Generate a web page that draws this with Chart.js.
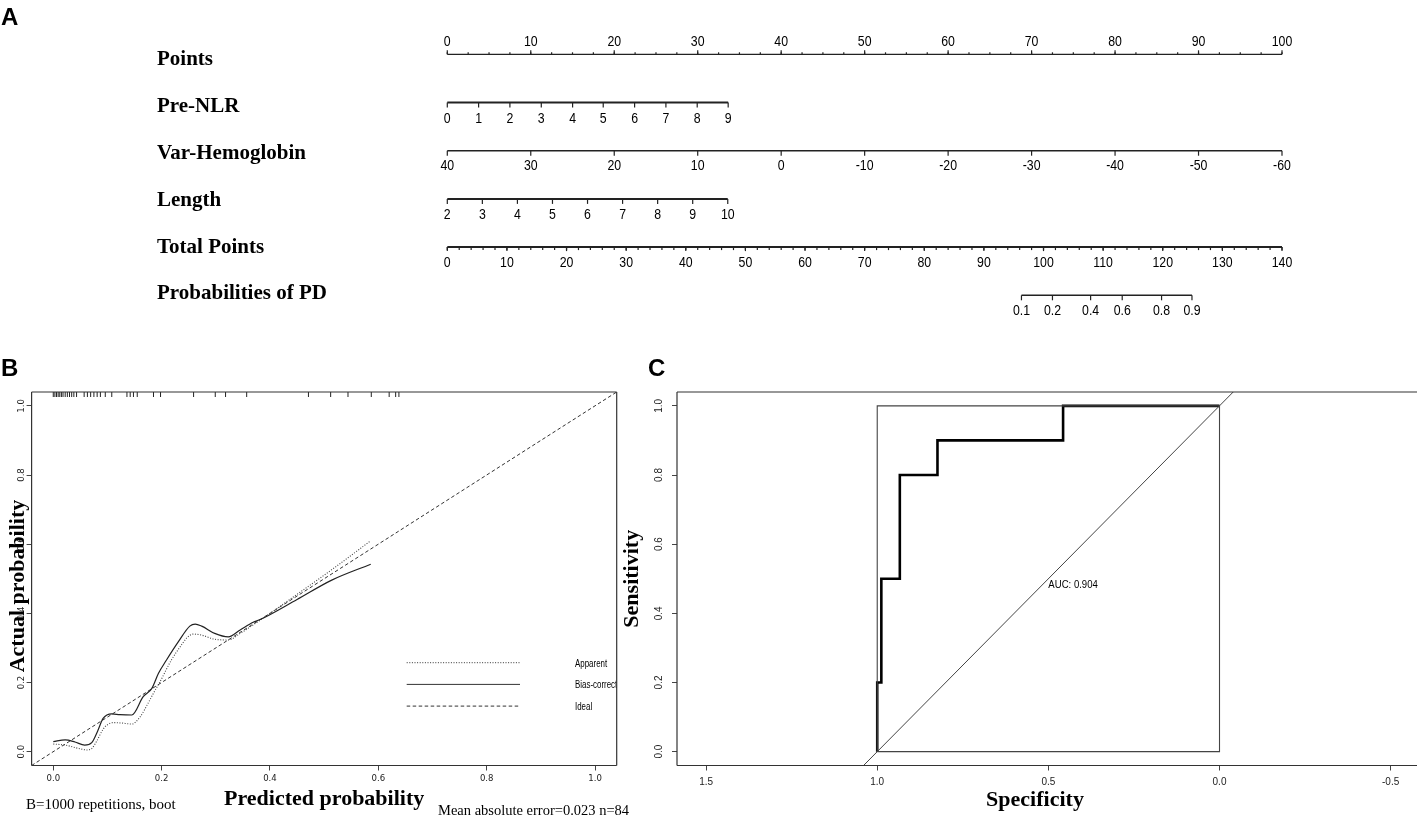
<!DOCTYPE html>
<html lang="en">
<head>
<meta charset="UTF-8">
<title>Nomogram, calibration curve and ROC curve</title>
<style>
  body { margin: 0; background: #fff; }
  #fig { position: relative; width: 1417px; height: 818px; overflow: hidden; background: #fff; }
  #fig canvas { position: absolute; }
  .tag { position: absolute; font: bold 24px "Liberation Sans", Arial, sans-serif; line-height: 24px; color: #000; }
</style>
<script src="https://cdn.jsdelivr.net/npm/chart.js@4.4.1/dist/chart.umd.min.js"></script>
</head>
<body>
<div id="fig">
  <canvas id="nomo" width="1417" height="335" style="left:0;top:0"></canvas>
  <canvas id="calib" width="640" height="478" style="left:0;top:340px"></canvas>
  <canvas id="roc" width="802" height="478" style="left:615px;top:340px"></canvas>
  <div class="tag" style="left:1px;top:5px">A</div>
  <div class="tag" style="left:1px;top:356px">B</div>
  <div class="tag" style="left:648px;top:356px">C</div>
</div>
<script>
// ---- panel A : nomogram (positions in "Points" units, last two rows in total points)
const rowNames = ['Points', 'Pre-NLR', 'Var-Hemoglobin', 'Length', 'Total Points', 'Probabilities of PD'];
const pointsLabels = [0, 10, 20, 30, 40, 50, 60, 70, 80, 90, 100];
const pointsPos = [0, 10, 20, 30, 40, 50, 60, 70, 80, 90, 100];
const preNlrLabels = [0, 1, 2, 3, 4, 5, 6, 7, 8, 9];
const preNlrPos = [0, 3.75, 7.5, 11.26, 15.01, 18.68, 22.44, 26.19, 29.94, 33.65];
const hemoLabels = [40, 30, 20, 10, 0, -10, -20, -30, -40, -50, -60];
const hemoPos = [0, 10, 20, 30, 40, 50, 60, 70, 80, 90, 100];
const lengthLabels = [2, 3, 4, 5, 6, 7, 8, 9, 10];
const lengthPos = [0, 4.2, 8.4, 12.6, 16.8, 21.0, 25.2, 29.4, 33.6];
const totalLabels = [0, 10, 20, 30, 40, 50, 60, 70, 80, 90, 100, 110, 120, 130, 140];
const totalPos = [0, 10, 20, 30, 40, 50, 60, 70, 80, 90, 100, 110, 120, 130, 140];
const probLabels = ['0.1', '0.2', '0.4', '0.6', '0.8', '0.9'];
const probPos = [96.3, 101.5, 107.9, 113.2, 119.8, 124.9];

// ---- panel B : calibration curve
const apparentX = [0.0, 0.022, 0.045, 0.062, 0.071, 0.08, 0.092, 0.1, 0.111, 0.125, 0.145, 0.16, 0.175, 0.187, 0.197, 0.218, 0.235, 0.246, 0.258, 0.274, 0.298, 0.323, 0.345, 0.375, 0.45, 0.52, 0.586];
const apparentY = [0.022, 0.019, 0.010, 0.005, 0.009, 0.030, 0.065, 0.078, 0.084, 0.083, 0.080, 0.100, 0.140, 0.175, 0.202, 0.265, 0.305, 0.328, 0.340, 0.337, 0.325, 0.323, 0.342, 0.373, 0.455, 0.533, 0.610];
const biasX = [0.0, 0.022, 0.04, 0.058, 0.071, 0.082, 0.092, 0.108, 0.123, 0.145, 0.166, 0.182, 0.194, 0.209, 0.231, 0.252, 0.262, 0.274, 0.298, 0.323, 0.345, 0.369, 0.382, 0.45, 0.514, 0.586];
const biasY = [0.029, 0.034, 0.028, 0.019, 0.026, 0.060, 0.096, 0.109, 0.107, 0.106, 0.159, 0.183, 0.226, 0.265, 0.318, 0.363, 0.369, 0.363, 0.342, 0.332, 0.352, 0.374, 0.382, 0.440, 0.496, 0.542];
const idealX = [-0.04, 1.04];
const idealY = [-0.04, 1.04];
const rugPred = [0.0, 0.003, 0.006, 0.009, 0.012, 0.015, 0.018, 0.022, 0.026, 0.030, 0.034, 0.038, 0.043,
  0.057, 0.063, 0.069, 0.075, 0.081, 0.087, 0.096, 0.108, 0.136, 0.142, 0.148, 0.155, 0.185, 0.198,
  0.259, 0.299, 0.318, 0.357, 0.471, 0.512, 0.544, 0.587, 0.620, 0.632, 0.638];
const calibTicks = [0, 0.2, 0.4, 0.6, 0.8, 1.0];

// ---- panel C : ROC curve
const rocSpec = [1, 1, 0.988, 0.988, 0.934, 0.934, 0.824, 0.824, 0.457, 0.457, 0];
const rocSens = [0, 0.2, 0.2, 0.5, 0.5, 0.8, 0.8, 0.9, 0.9, 1, 1];
const chanceSpec = [1.04, -0.04];
const chanceSens = [-0.04, 1.04];
const boxSpec = [1, 1, 0, 0, 1];
const boxSens = [0, 1, 1, 0, 0];
const rocTicksX = [1.5, 1.0, 0.5, 0.0, -0.5];
const rocTicksY = [0, 0.2, 0.4, 0.6, 0.8, 1.0];
const aucText = 'AUC: 0.904';

const SERIF = '"Liberation Serif", "Times New Roman", serif';
const SANS = '"Liberation Sans", Arial, sans-serif';
const NARROW = '"Liberation Sans Narrow", "DejaVu Sans Condensed", Arial, sans-serif';

const toXY = (xs, ys) => xs.map((x, i) => ({ x: x, y: ys[i] }));

function drawText(ctx, text, x, y, font, align, sx, rot) {
    ctx.save();
    ctx.translate(x, y);
    if (rot) ctx.rotate(rot);
    ctx.scale(sx || 1, 1);
    ctx.font = font;
    ctx.textAlign = align || 'left';
    ctx.textBaseline = 'middle';
    ctx.fillStyle = '#000';
    ctx.fillText(text, 0, 0);
    ctx.restore();
}

function seg(ctx, x1, y1, x2, y2) {
    ctx.beginPath();
    ctx.moveTo(x1, y1);
    ctx.lineTo(x2, y2);
    ctx.stroke();
}

// row settings for the nomogram
const nomoRows = [
    { labels: pointsLabels, pos: pointsPos, axis: 'x', dir: -1, major: 4, minor: 2.5, minorLen: 2, gap: 12.6, width: 1.2, shift: 5.7 },
    { labels: preNlrLabels, pos: preNlrPos, axis: 'x', dir: 1, major: 5, gap: 16.5, width: 2, shift: 4.5 },
    { labels: hemoLabels, pos: hemoPos, axis: 'x', dir: 1, major: 5, gap: 15.7, width: 1.4, shift: 3 },
    { labels: lengthLabels, pos: lengthPos, axis: 'x', dir: 1, major: 5, gap: 16, width: 2, shift: 2 },
    { labels: totalLabels, pos: totalPos, axis: 'x2', dir: 1, major: 4, minor: 2, minorLen: 3, gap: 16, width: 2, shift: 0.7 },
    { labels: probLabels, pos: probPos, axis: 'x2', dir: 1, major: 5, gap: 15.7, width: 1.4, shift: -1.3 }
];

const nomogramPlugin = {
    id: 'nomogram',
    afterDatasetsDraw(chart) {
        const ctx = chart.ctx;
        const yS = chart.scales.y;
        ctx.save();
        ctx.strokeStyle = '#222';
        ctx.lineWidth = 1.2;
        nomoRows.forEach((row, i) => {
            const xs = chart.scales[row.axis];
            const y = yS.getPixelForValue(i);
            const first = row.pos[0], last = row.pos[row.pos.length - 1];
            if (row.minor) {
                for (let v = first; v <= last + 1e-6; v += row.minor) {
                    const px = xs.getPixelForValue(v);
                    seg(ctx, px, y, px, y + row.dir * row.minorLen);
                }
            }
            row.pos.forEach((v, k) => {
                const px = xs.getPixelForValue(v);
                seg(ctx, px, y, px, y + row.dir * row.major);
                drawText(ctx, String(row.labels[k]), px, y + row.dir * row.gap, '14px ' + SANS, 'center', 0.88);
            });
            drawText(ctx, rowNames[i], 157, y + row.shift, 'bold 21px ' + SERIF, 'left');
        });
        ctx.restore();
    }
};

new Chart(document.getElementById('nomo'), {
    type: 'scatter',
    data: {
        datasets: nomoRows.map((row, i) => ({
            data: [{ x: row.pos[0], y: i }, { x: row.pos[row.pos.length - 1], y: i }],
            xAxisID: row.axis,
            showLine: true,
            borderColor: '#222',
            borderWidth: row.width,
            pointRadius: 0,
            clip: false
        }))
    },
    options: {
        responsive: false,
        animation: false,
        events: [],
        layout: { padding: { left: 447.3, right: 135, top: 54.3, bottom: 39.7 } },
        scales: {
            x: { type: 'linear', min: 0, max: 100, display: false },
            x2: { type: 'linear', axis: 'x', min: 0, max: 140, display: false },
            y: { type: 'linear', min: 0, max: 5, reverse: true, display: false }
        },
        plugins: { legend: { display: false }, tooltip: { enabled: false } }
    },
    plugins: [nomogramPlugin]
});

// frame round the plotting region
const framePlugin = {
    id: 'frame',
    afterDraw(chart, args, opts) {
        const a = chart.chartArea, ctx = chart.ctx;
        const sides = opts.sides || ['top', 'right', 'bottom', 'left'];
        ctx.save();
        ctx.strokeStyle = '#333';
        ctx.lineWidth = 1.2;
        if (sides.includes('top')) seg(ctx, a.left, a.top, a.right, a.top);
        if (sides.includes('right')) seg(ctx, a.right, a.top, a.right, a.bottom);
        if (sides.includes('bottom')) seg(ctx, a.left, a.bottom, a.right, a.bottom);
        if (sides.includes('left')) seg(ctx, a.left, a.top, a.left, a.bottom);
        ctx.restore();
    }
};

// rug of predicted probabilities, legend and notes for panel B
const calibExtras = {
    id: 'calibExtras',
    afterDatasetsDraw(chart) {
        const ctx = chart.ctx, a = chart.chartArea, xs = chart.scales.x;
        ctx.save();
        ctx.strokeStyle = '#222';
        ctx.lineWidth = 1;
        rugPred.forEach(v => {
            const px = xs.getPixelForValue(v);
            seg(ctx, px, a.top, px, a.top + 5);
        });
        ctx.beginPath();
        ctx.rect(a.left, a.top, a.right - a.left, a.bottom - a.top);
        ctx.clip();
        const items = [['Apparent', [1, 1.6]], ['Bias-corrected', []], ['Ideal', [3.5, 2.5]]];
        items.forEach((it, i) => {
            const y = 322.7 + i * 21.7;
            ctx.setLineDash(it[1]);
            ctx.strokeStyle = '#333';
            seg(ctx, 406.7, y, 520, y);
            ctx.setLineDash([]);
            drawText(ctx, it[0], 575, y + 1, '11px ' + SANS, 'left', 0.72);
        });
        ctx.restore();
        drawText(ctx, 'Actual probability', 18, 246, 'bold 22px ' + SERIF, 'center', 1, -Math.PI / 2);
        drawText(ctx, 'B=1000 repetitions, boot', 26, 465, '15px ' + SERIF, 'left');
        drawText(ctx, 'Mean absolute error=0.023 n=84', 438, 471, '14.5px ' + SERIF, 'left');
    }
};

const fixedWidth = w => s => { s.width = w; };
const fixedHeight = h => s => { s.height = h; };
const oneDec = v => Number(v).toFixed(1);

new Chart(document.getElementById('calib'), {
    type: 'scatter',
    data: {
        datasets: [
            { label: 'Apparent', data: toXY(apparentX, apparentY), showLine: true, borderColor: '#444', borderWidth: 1.1, borderDash: [1, 1.6], pointRadius: 0, cubicInterpolationMode: 'monotone' },
            { label: 'Bias-corrected', data: toXY(biasX, biasY), showLine: true, borderColor: '#222', borderWidth: 1.2, pointRadius: 0, cubicInterpolationMode: 'monotone' },
            { label: 'Ideal', data: toXY(idealX, idealY), showLine: true, borderColor: '#333', borderWidth: 1, borderDash: [3.5, 2.5], pointRadius: 0 }
        ]
    },
    options: {
        responsive: false,
        animation: false,
        events: [],
        layout: { padding: { left: 0, right: 23.3, top: 52, bottom: 0 } },
        scales: {
            x: {
                type: 'linear', min: -0.04, max: 1.04,
                afterBuildTicks: s => { s.ticks = calibTicks.map(v => ({ value: v })); },
                ticks: { callback: oneDec, font: { family: NARROW, size: 9.5 }, color: '#222', padding: 2, maxRotation: 0, autoSkip: false },
                grid: { drawOnChartArea: false, tickLength: 5, color: '#444' },
                border: { display: false },
                title: { display: true, text: 'Predicted probability', color: '#000', font: { family: SERIF, size: 22, weight: 'bold' }, padding: { top: 0, bottom: 5 } },
                afterFit: fixedHeight(52.5)
            },
            y: {
                type: 'linear', min: -0.04, max: 1.04,
                afterBuildTicks: s => { s.ticks = calibTicks.map(v => ({ value: v })); },
                ticks: { callback: oneDec, font: { family: NARROW, size: 9.5 }, color: '#222', padding: -2, minRotation: 90, maxRotation: 90, crossAlign: 'center', autoSkip: false },
                grid: { drawOnChartArea: false, tickLength: 5, color: '#444' },
                border: { display: false },
                afterFit: fixedWidth(31.6)
            }
        },
        plugins: { legend: { display: false }, tooltip: { enabled: false }, frame: {} }
    },
    plugins: [framePlugin, calibExtras]
});

// AUC label and x title for panel C
const rocExtras = {
    id: 'rocExtras',
    afterDatasetsDraw(chart) {
        const ctx = chart.ctx;
        const px = chart.scales.x.getPixelForValue(0.5);
        const py = chart.scales.y.getPixelForValue(0.482);
        drawText(ctx, aucText, px, py, '11px ' + SANS, 'left', 0.87);
        drawText(ctx, 'Specificity', 420, 460, 'bold 22px ' + SERIF, 'center');
    }
};

new Chart(document.getElementById('roc'), {
    type: 'scatter',
    data: {
        datasets: [
            { data: toXY(boxSpec, boxSens), showLine: true, borderColor: '#444', borderWidth: 1.1, pointRadius: 0 },
            { data: toXY(chanceSpec, chanceSens), showLine: true, borderColor: '#444', borderWidth: 1, pointRadius: 0 },
            { data: toXY(rocSpec, rocSens), showLine: true, borderColor: '#000', borderWidth: 2.6, pointRadius: 0 }
        ]
    },
    options: {
        responsive: false,
        animation: false,
        events: [],
        layout: { padding: { left: 0, right: 0, top: 52, bottom: 0 } },
        scales: {
            x: {
                type: 'linear', min: -0.577, max: 1.585, reverse: true,
                afterBuildTicks: s => { s.ticks = rocTicksX.map(v => ({ value: v })); },
                ticks: { callback: oneDec, font: { family: SANS, size: 10 }, color: '#222', padding: 5.5, maxRotation: 0, autoSkip: false },
                grid: { drawOnChartArea: false, tickLength: 5, color: '#444' },
                border: { display: false },
                afterFit: fixedHeight(52.5)
            },
            y: {
                type: 'linear', min: -0.04, max: 1.04,
                afterBuildTicks: s => { s.ticks = rocTicksY.map(v => ({ value: v })); },
                ticks: { callback: oneDec, font: { family: SANS, size: 10 }, color: '#222', padding: 6, minRotation: 90, maxRotation: 90, crossAlign: 'center', autoSkip: false },
                grid: { drawOnChartArea: false, tickLength: 5, color: '#444' },
                border: { display: false },
                title: { display: true, text: 'Sensitivity', color: '#000', font: { family: SERIF, size: 22, weight: 'bold' }, padding: { top: 4, bottom: 0 } },
                afterFit: fixedWidth(62)
            }
        },
        plugins: { legend: { display: false }, tooltip: { enabled: false }, frame: { sides: ['top', 'bottom', 'left'] } }
    },
    plugins: [framePlugin, rocExtras]
});
</script>
</body>
</html>
